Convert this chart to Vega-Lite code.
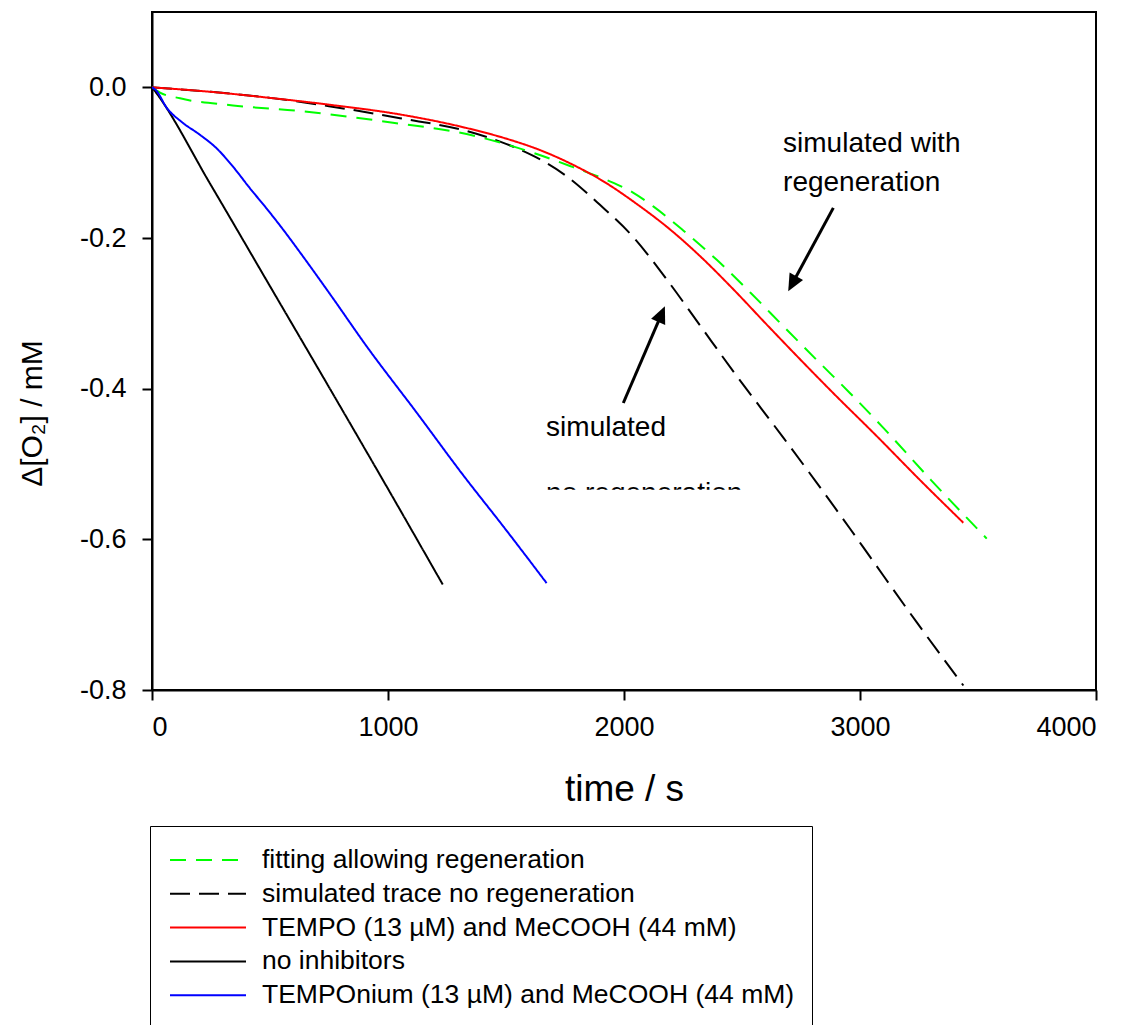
{
  "$schema": "https://vega.github.io/schema/vega-lite/v6.json",
  "width": 944,
  "height": 678,
  "autosize": {"type": "none"},
  "padding": {"left": 152, "top": 12, "right": 40, "bottom": 335},
  "background": "white",
  "datasets": {
    "curves": [
      {"series": "simulated trace no regeneration", "t": 0, "v": 0},
      {"series": "simulated trace no regeneration", "t": 250, "v": -0.006},
      {"series": "simulated trace no regeneration", "t": 500, "v": -0.014},
      {"series": "simulated trace no regeneration", "t": 750, "v": -0.025},
      {"series": "simulated trace no regeneration", "t": 1051, "v": -0.041},
      {"series": "simulated trace no regeneration", "t": 1333, "v": -0.058},
      {"series": "simulated trace no regeneration", "t": 1500, "v": -0.075},
      {"series": "simulated trace no regeneration", "t": 1616, "v": -0.091},
      {"series": "simulated trace no regeneration", "t": 1757, "v": -0.118},
      {"series": "simulated trace no regeneration", "t": 1898, "v": -0.156},
      {"series": "simulated trace no regeneration", "t": 2040, "v": -0.199},
      {"series": "simulated trace no regeneration", "t": 2181, "v": -0.255},
      {"series": "simulated trace no regeneration", "t": 2322, "v": -0.316},
      {"series": "simulated trace no regeneration", "t": 2463, "v": -0.377},
      {"series": "simulated trace no regeneration", "t": 2675, "v": -0.465},
      {"series": "simulated trace no regeneration", "t": 2817, "v": -0.525},
      {"series": "simulated trace no regeneration", "t": 2958, "v": -0.586},
      {"series": "simulated trace no regeneration", "t": 3042, "v": -0.623},
      {"series": "simulated trace no regeneration", "t": 3240, "v": -0.710},
      {"series": "simulated trace no regeneration", "t": 3438, "v": -0.794},

      {"series": "fitting allowing regeneration", "t": 0, "v": 0},
      {"series": "fitting allowing regeneration", "t": 34, "v": -0.007},
      {"series": "fitting allowing regeneration", "t": 119, "v": -0.0146},
      {"series": "fitting allowing regeneration", "t": 343, "v": -0.024},
      {"series": "fitting allowing regeneration", "t": 627, "v": -0.0315},
      {"series": "fitting allowing regeneration", "t": 1021, "v": -0.047},
      {"series": "fitting allowing regeneration", "t": 1333, "v": -0.062},
      {"series": "fitting allowing regeneration", "t": 1616, "v": -0.087},
      {"series": "fitting allowing regeneration", "t": 1785, "v": -0.106},
      {"series": "fitting allowing regeneration", "t": 1927, "v": -0.123},
      {"series": "fitting allowing regeneration", "t": 2040, "v": -0.140},
      {"series": "fitting allowing regeneration", "t": 2124, "v": -0.158},
      {"series": "fitting allowing regeneration", "t": 2251, "v": -0.190},
      {"series": "fitting allowing regeneration", "t": 2393, "v": -0.229},
      {"series": "fitting allowing regeneration", "t": 2534, "v": -0.272},
      {"series": "fitting allowing regeneration", "t": 2675, "v": -0.317},
      {"series": "fitting allowing regeneration", "t": 2817, "v": -0.362},
      {"series": "fitting allowing regeneration", "t": 2958, "v": -0.406},
      {"series": "fitting allowing regeneration", "t": 3099, "v": -0.452},
      {"series": "fitting allowing regeneration", "t": 3300, "v": -0.521},
      {"series": "fitting allowing regeneration", "t": 3537, "v": -0.599},

      {"series": "TEMPO (13 µM) and MeCOOH (44 mM)", "t": 0, "v": 0},
      {"series": "TEMPO (13 µM) and MeCOOH (44 mM)", "t": 250, "v": -0.006},
      {"series": "TEMPO (13 µM) and MeCOOH (44 mM)", "t": 500, "v": -0.014},
      {"series": "TEMPO (13 µM) and MeCOOH (44 mM)", "t": 750, "v": -0.023},
      {"series": "TEMPO (13 µM) and MeCOOH (44 mM)", "t": 1051, "v": -0.036},
      {"series": "TEMPO (13 µM) and MeCOOH (44 mM)", "t": 1333, "v": -0.054},
      {"series": "TEMPO (13 µM) and MeCOOH (44 mM)", "t": 1500, "v": -0.068},
      {"series": "TEMPO (13 µM) and MeCOOH (44 mM)", "t": 1650, "v": -0.084},
      {"series": "TEMPO (13 µM) and MeCOOH (44 mM)", "t": 1785, "v": -0.103},
      {"series": "TEMPO (13 µM) and MeCOOH (44 mM)", "t": 1898, "v": -0.122},
      {"series": "TEMPO (13 µM) and MeCOOH (44 mM)", "t": 2068, "v": -0.158},
      {"series": "TEMPO (13 µM) and MeCOOH (44 mM)", "t": 2181, "v": -0.185},
      {"series": "TEMPO (13 µM) and MeCOOH (44 mM)", "t": 2322, "v": -0.224},
      {"series": "TEMPO (13 µM) and MeCOOH (44 mM)", "t": 2463, "v": -0.268},
      {"series": "TEMPO (13 µM) and MeCOOH (44 mM)", "t": 2605, "v": -0.315},
      {"series": "TEMPO (13 µM) and MeCOOH (44 mM)", "t": 2746, "v": -0.361},
      {"series": "TEMPO (13 µM) and MeCOOH (44 mM)", "t": 2887, "v": -0.406},
      {"series": "TEMPO (13 µM) and MeCOOH (44 mM)", "t": 3071, "v": -0.463},
      {"series": "TEMPO (13 µM) and MeCOOH (44 mM)", "t": 3250, "v": -0.520},
      {"series": "TEMPO (13 µM) and MeCOOH (44 mM)", "t": 3438, "v": -0.578},

      {"series": "no inhibitors", "t": 0, "v": 0},
      {"series": "no inhibitors", "t": 10, "v": -0.004},
      {"series": "no inhibitors", "t": 250, "v": -0.130},
      {"series": "no inhibitors", "t": 500, "v": -0.264},
      {"series": "no inhibitors", "t": 750, "v": -0.398},
      {"series": "no inhibitors", "t": 1000, "v": -0.533},
      {"series": "no inhibitors", "t": 1232, "v": -0.660},

      {"series": "TEMPOnium (13 µM) and MeCOOH (44 mM)", "t": 0, "v": 0},
      {"series": "TEMPOnium (13 µM) and MeCOOH (44 mM)", "t": 17, "v": -0.004},
      {"series": "TEMPOnium (13 µM) and MeCOOH (44 mM)", "t": 62, "v": -0.027},
      {"series": "TEMPOnium (13 µM) and MeCOOH (44 mM)", "t": 126, "v": -0.046},
      {"series": "TEMPOnium (13 µM) and MeCOOH (44 mM)", "t": 203, "v": -0.063},
      {"series": "TEMPOnium (13 µM) and MeCOOH (44 mM)", "t": 274, "v": -0.081},
      {"series": "TEMPOnium (13 µM) and MeCOOH (44 mM)", "t": 345, "v": -0.106},
      {"series": "TEMPOnium (13 µM) and MeCOOH (44 mM)", "t": 415, "v": -0.134},
      {"series": "TEMPOnium (13 µM) and MeCOOH (44 mM)", "t": 486, "v": -0.161},
      {"series": "TEMPOnium (13 µM) and MeCOOH (44 mM)", "t": 556, "v": -0.189},
      {"series": "TEMPOnium (13 µM) and MeCOOH (44 mM)", "t": 620, "v": -0.216},
      {"series": "TEMPOnium (13 µM) and MeCOOH (44 mM)", "t": 760, "v": -0.277},
      {"series": "TEMPOnium (13 µM) and MeCOOH (44 mM)", "t": 910, "v": -0.344},
      {"series": "TEMPOnium (13 µM) and MeCOOH (44 mM)", "t": 1122, "v": -0.432},
      {"series": "TEMPOnium (13 µM) and MeCOOH (44 mM)", "t": 1319, "v": -0.515},
      {"series": "TEMPOnium (13 µM) and MeCOOH (44 mM)", "t": 1489, "v": -0.583},
      {"series": "TEMPOnium (13 µM) and MeCOOH (44 mM)", "t": 1672, "v": -0.658}
    ],
    "arrows": [
      {"t": 2887, "v": -0.160, "t2": 2713, "v2": -0.2607},
      {"t": 1997, "v": -0.419, "t2": 2159, "v2": -0.301}
    ],
    "heads": [
      {"t": 2713, "v": -0.2607, "ang": 208.4},
      {"t": 2159, "v": -0.301, "ang": 23.3}
    ],
    "notes": [
      {"t": 2674, "v": -0.0864, "label": "simulated with"},
      {"t": 2674, "v": -0.1378, "label": "regeneration"},
      {"t": 1670, "v": -0.4634, "label": "simulated"},
      {"t": 1670, "v": -0.550, "label": "no regeneration"}
    ],
    "mask": [
      {"t": 1640, "v": -0.5342, "t2": 2620, "v2": -0.58}
    ]
  },
  "encoding": {
    "x": {
      "field": "t", "type": "quantitative",
      "scale": {"domain": [0, 4000], "nice": false, "zero": false},
      "axis": {"values": [0, 1000, 2000, 3000, 4000], "format": "d", "title": "time / s", "labelPadding": 14, "titlePadding": 31, "titleFontSize": 37}
    },
    "y": {
      "field": "v", "type": "quantitative",
      "scale": {"domain": [-0.8, 0.1], "nice": false, "zero": false},
      "axis": {
        "values": [-0.8, -0.6, -0.4, -0.2, 0],
        "labelExpr": "datum.value == 0 ? '0.0' : '-' + format(abs(datum.value), '.1f')",
        "labelPadding": 16,
        "title": "Δ[O₂] / mM",
        "titleFontSize": 30,
        "titleX": -120, "titleY": 401, "titleAngle": 270, "titleAlign": "center", "titleBaseline": "middle"
      }
    }
  },
  "layer": [
    {
      "data": {"name": "curves"},
      "mark": {"type": "line", "strokeWidth": 2, "clip": true, "interpolate": "monotone"},
      "encoding": {
        "color": {
          "field": "series", "type": "nominal",
          "scale": {
            "domain": ["fitting allowing regeneration", "simulated trace no regeneration", "TEMPO (13 µM) and MeCOOH (44 mM)", "no inhibitors", "TEMPOnium (13 µM) and MeCOOH (44 mM)"],
            "range": ["#00ff00", "#000000", "#ff0000", "#000000", "#0000ff"]
          },
          "legend": {"orient": "none", "legendX": -2, "legendY": 814, "title": null, "strokeColor": "black", "fillColor": "white", "padding": 17, "labelFontSize": 26.5, "labelFont": "Liberation Sans", "labelColor": "black", "labelLimit": 900, "symbolType": "M-2.375,0H2.375", "symbolSize": 1024, "symbolStrokeWidth": 2, "symbolOffset": 24, "labelOffset": 37, "rowPadding": 2.8}
        },
        "strokeDash": {
          "field": "series", "type": "nominal",
          "scale": {
            "domain": ["fitting allowing regeneration", "simulated trace no regeneration", "TEMPO (13 µM) and MeCOOH (44 mM)", "no inhibitors", "TEMPOnium (13 µM) and MeCOOH (44 mM)"],
            "range": [[16, 10], [20, 9], [1, 0], [1, 0], [1, 0]]
          },
          "legend": {"orient": "none", "legendX": -2, "legendY": 814, "title": null, "strokeColor": "black", "fillColor": "white", "padding": 17, "labelFontSize": 26.5, "labelFont": "Liberation Sans", "labelColor": "black", "labelLimit": 900, "symbolType": "M-2.375,0H2.375", "symbolSize": 1024, "symbolStrokeWidth": 2, "symbolOffset": 24, "labelOffset": 37, "rowPadding": 2.8}
        },
        "order": {"field": "t", "type": "quantitative"}
      }
    },
    {
      "data": {"name": "arrows"},
      "mark": {"type": "rule", "color": "black", "strokeWidth": 3},
      "encoding": {
        "x2": {"field": "t2"},
        "y2": {"field": "v2"}
      }
    },
    {
      "data": {"name": "heads"},
      "mark": {"type": "point", "shape": "M0,-1L0.9,1L-0.9,1Z", "filled": true, "color": "black", "opacity": 1, "size": 289},
      "encoding": {
        "angle": {"field": "ang", "type": "quantitative", "scale": null}
      }
    },
    {
      "data": {"name": "notes"},
      "mark": {"type": "text", "align": "left", "baseline": "alphabetic", "font": "Liberation Sans", "fontSize": 28, "color": "black"},
      "encoding": {
        "text": {"field": "label"}
      }
    },
    {
      "data": {"name": "mask"},
      "mark": {"type": "rect", "color": "white", "opacity": 1},
      "encoding": {
        "x2": {"field": "t2"},
        "y2": {"field": "v2"}
      }
    }
  ],
  "config": {
    "font": "Liberation Sans",
    "view": {"stroke": "black", "strokeWidth": 2},
    "axis": {
      "grid": false, "domainColor": "black", "domainWidth": 2,
      "tickColor": "black", "tickWidth": 2, "tickSize": 10,
      "labelColor": "black", "labelFont": "Liberation Sans", "labelFontSize": 27,
      "titleFont": "Liberation Sans", "titleFontWeight": "normal", "titleColor": "black", "titleFontSize": 32
    }
  }
}
